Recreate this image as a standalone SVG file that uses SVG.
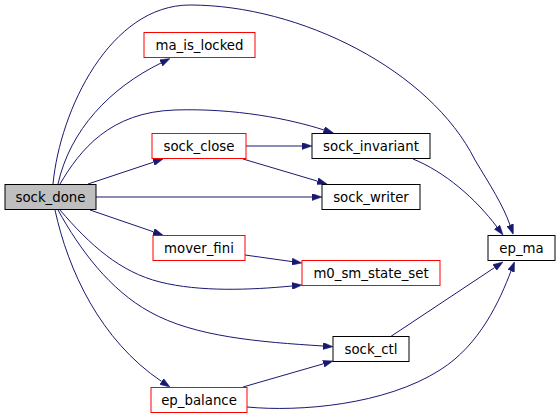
<svg xmlns="http://www.w3.org/2000/svg" width="560" height="419" viewBox="0 0 560 419">
<style>
.n rect{fill:#fff;stroke:#000;stroke-width:1}
.n.r rect{stroke:#ff0000}
.n.root rect{fill:#bfbfbf;stroke:#000}
.n text{font-family:"DejaVu Sans",sans-serif;font-size:13.3px;text-anchor:middle;fill:#000}
.e path{fill:none;stroke:#191970;stroke-width:1;marker-end:url(#ah)}
</style>
<defs>
<marker id="ah" viewBox="0 0 10 7" refX="0" refY="3.5" markerWidth="10" markerHeight="7" markerUnits="userSpaceOnUse" orient="auto">
<path d="M0,0 L10,3.5 L0,7 Z" fill="#191970" stroke="#191970" stroke-width="0.5"/>
</marker>
</defs>
<rect width="560" height="419" fill="#fff"/>
<g id="connectors" class="e">
<path d="M53,184 C60,110 110,5 190,5 C300,5 430,70 475,160 C490,185 503,205 510,225"/>
<path d="M58,184 C70,130 110,88 161,63"/>
<path d="M60,184 C80,150 110,112 175,110 C235,108 290,119 324,130"/>
<path d="M88,184 L153.5,162.2"/>
<path d="M96,197 L312,197"/>
<path d="M246,146 L302,146"/>
<path d="M243,159 L317.4,181.1"/>
<path d="M413,159 C445,172 475,198 497,227"/>
<path d="M90,210 L153.5,231.8"/>
<path d="M60,210 C90,245 120,272 160,282 C200,292 250,290 292,286"/>
<path d="M245,255 L292,261.6"/>
<path d="M58,210 C80,250 110,290 150,312 C195,337 260,342 323,346"/>
<path d="M55,210 C68,270 100,340 161.7,381.5"/>
<path d="M243,387 L323.4,363.8"/>
<path d="M247,407 C300,412 385,405 440,370 C480,345 500,300 511,271"/>
<path d="M390,337 L494.7,267.5"/>
</g>
<g id="sock_done" class="n root"><rect x="5" y="184.5" width="91" height="25"/><text x="50.5" y="201.5">sock_done</text></g>
<g id="ma_is_locked" class="n r"><rect x="144" y="32.5" width="111" height="25"/><text x="199.5" y="49.5">ma_is_locked</text></g>
<g id="sock_close" class="n r"><rect x="152" y="133.5" width="94" height="25"/><text x="199" y="150.5">sock_close</text></g>
<g id="sock_invariant" class="n"><rect x="312" y="133.5" width="118" height="25"/><text x="371" y="150.5">sock_invariant</text></g>
<g id="sock_writer" class="n"><rect x="322" y="184.5" width="98" height="25"/><text x="371" y="201.5">sock_writer</text></g>
<g id="mover_fini" class="n r"><rect x="153" y="235.5" width="92" height="25"/><text x="199" y="252.5">mover_fini</text></g>
<g id="m0_sm_state_set" class="n r"><rect x="302" y="260.5" width="138" height="25"/><text x="371" y="277.5">m0_sm_state_set</text></g>
<g id="ep_ma" class="n"><rect x="488" y="235.5" width="67" height="25"/><text x="521.5" y="252.5">ep_ma</text></g>
<g id="sock_ctl" class="n"><rect x="333" y="336.5" width="76" height="25"/><text x="371" y="353.5">sock_ctl</text></g>
<g id="ep_balance" class="n r"><rect x="151" y="387.5" width="96" height="25"/><text x="199" y="404.5">ep_balance</text></g>
</svg>
